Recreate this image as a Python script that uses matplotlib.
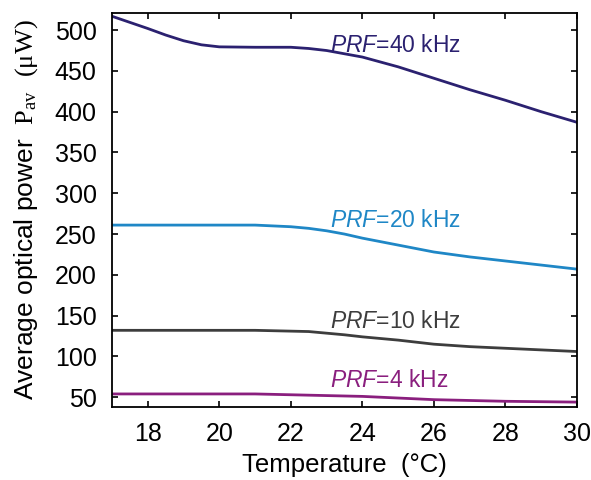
import matplotlib
matplotlib.use("Agg")
import matplotlib.pyplot as plt

plt.rcParams['font.family'] = ['Liberation Sans', 'DejaVu Sans']
plt.rcParams['mathtext.fontset'] = 'custom'
plt.rcParams['mathtext.rm'] = 'Liberation Serif'
plt.rcParams['mathtext.it'] = 'Liberation Sans:italic'

# temperature (deg C)
temp = [17, 17.5, 18, 18.5, 19, 19.5, 20, 21, 22, 22.5, 23, 23.5,
        24, 25, 26, 27, 28, 29, 30]

# average optical power (uW) for each pulse repetition frequency
p_40k = [517, 509.5, 502, 494, 487, 482, 479.5, 479, 479, 477.5, 475, 471,
         467, 455, 441, 427, 414, 400, 387]
p_20k = [261, 261, 261, 261, 261, 261, 261, 261, 259, 257, 254, 250,
         245, 236.5, 228, 222, 217, 212, 207]
p_10k = [132, 132, 132, 132, 132, 132, 132, 132, 131, 130.5, 128.5, 126.5,
         124, 120, 115, 112, 110, 108, 106]
p_4k = [54, 54, 54, 54, 54, 54, 54, 54, 53, 52.5, 52, 51.5,
        51, 49, 47, 46, 45, 44.5, 44]

labels = ['40 kHz', '20 kHz', '10 kHz', '4 kHz']
label_y = [473, 258.5, 134.5, 62.5]
colors = ['#2b2170', '#1f87c6', '#3d3d3d', '#8a1f7e']

fig = plt.figure(figsize=(5.91, 4.80), dpi=100)
ax = fig.add_axes([112 / 591, 1 - 407 / 480, 465 / 591, 394 / 480])

for vals, col, lab, ly in zip([p_40k, p_20k, p_10k, p_4k], colors, labels, label_y):
    ax.plot(temp, vals, color=col, lw=2)
    ax.text(23.1, ly, r'$\mathit{PRF}$=' + lab, color=col, fontsize=16.5,
            va='baseline', ha='left')

ax.set_xlim(17, 30)
ax.set_ylim(38, 521)
ax.set_xticks([18, 20, 22, 24, 26, 28, 30])
ax.set_yticks(range(50, 501, 50))
ax.tick_params(direction='in', top=True, right=True, labelsize=18,
               length=4.5, width=1.2, pad=11)
for s in ax.spines.values():
    s.set_linewidth(1.3)

ax.set_xlabel('Temperature  (°C)', fontsize=18.5, labelpad=5)
ax.set_ylabel(r'Average optical power  $\mathrm{P_{av}}$  $\mathrm{(μW)}$',
              fontsize=19, labelpad=6)
ax.yaxis.set_label_coords(-0.155, 0.5)

fig.savefig('out.png', dpi=100)
